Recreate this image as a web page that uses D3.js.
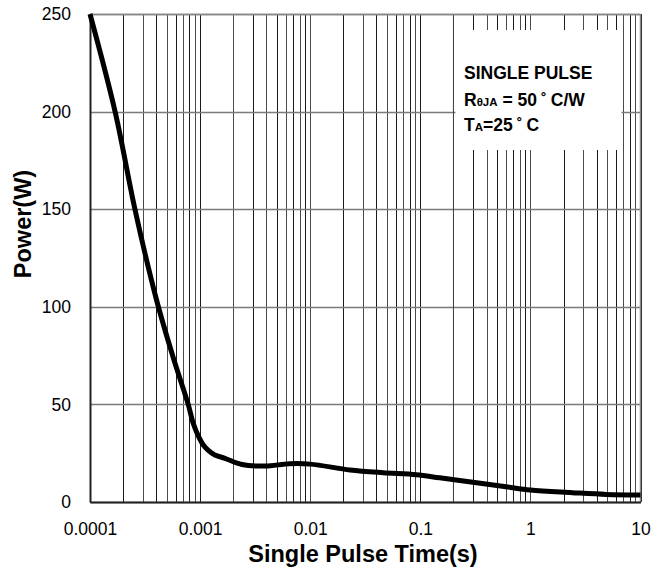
<!DOCTYPE html>
<html><head><meta charset="utf-8">
<script src="https://cdn.jsdelivr.net/npm/d3@7"></script>
<style>body{margin:0;background:#fff}svg{display:block}text{font-family:Arial,"Liberation Sans",sans-serif}</style>
</head><body>
<svg id="c" width="662" height="571"></svg>
<script>
const pulseTime = [1e-4, 1.69e-4, 2.56e-4, 4.0e-4, 5.7e-4, 7.8e-4, 8.66e-4, 9.6e-4, 1.07e-3, 1.18e-3, 1.36e-3, 1.68e-3, 2.4e-3, 3.9e-3, 6.5e-3, 1.0e-2, 2.3e-2, 4.6e-2, 9.2e-2, 0.15, 0.3, 0.6, 1.0, 2.4, 4.9, 10];
const powerW =    [250, 200, 150, 104, 74, 50, 40.3, 34, 29.2, 26.6, 24.1, 22.4, 19.2, 18.4, 19.6, 19.4, 16.4, 15, 14, 12.4, 10.1, 7.8, 6.1, 4.8, 3.9, 3.6];
const xTickValues = [0.0001, 0.001, 0.01, 0.1, 1, 10];
const xTickLabels = ["0.0001", "0.001", "0.01", "0.1", "1", "10"];
const yTickValues = [0, 50, 100, 150, 200, 250];
const legendLines = ["SINGLE PULSE", "RθJA = 50˚C/W", "TA=25˚C"];

const svg = d3.select("#c");
const L = 90, R = 640.5, T = 14, B = 502;
const x = d3.scaleLog().domain([1e-4, 10]).range([L, R]);
const y = d3.scaleLinear().domain([0, 250]).range([B, T]);

// vertical grid (all minor decades)
const minor = [];
for (let e = -4; e < 1; e++) for (let m = 1; m <= 9; m++) minor.push(m * Math.pow(10, e));
minor.push(10);
svg.append("g").selectAll("line").data(minor).join("line")
  .attr("x1", d => Math.round(x(d)) + 0.5).attr("x2", d => Math.round(x(d)) + 0.5)
  .attr("y1", T).attr("y2", B)
  .attr("stroke", (d, i) => i % 2 ? "#1a1a1a" : "#4a4a4a").attr("stroke-width", 1);

// horizontal grid
svg.append("g").selectAll("line").data(yTickValues).join("line")
  .attr("x1", L).attr("x2", R)
  .attr("y1", d => Math.round(y(d)) + 0.5).attr("y2", d => Math.round(y(d)) + 0.5)
  .attr("stroke", "#7a7a7a").attr("stroke-width", 1.3);

// legend box covering grid
svg.append("rect").attr("x", 455.5).attr("y", 30).attr("width", 166).attr("height", 120).attr("fill", "#fff");
svg.append("line").attr("x1", x(0.2)).attr("x2", x(0.2)).attr("y1", T).attr("y2", B).attr("stroke", "#444");

// frame
svg.append("line").attr("x1", L).attr("x2", R).attr("y1", T + 0.5).attr("y2", T + 0.5).attr("stroke", "#888").attr("stroke-width", 1.5);
svg.append("line").attr("x1", R).attr("x2", R).attr("y1", T).attr("y2", B).attr("stroke", "#888").attr("stroke-width", 1.5);

// axes
const xAxis = d3.axisBottom(x).tickValues(xTickValues).tickFormat((d, i) => xTickLabels[i]).tickSize(0).tickPadding(20);
const gx = svg.append("g").attr("transform", `translate(0,${B})`).call(xAxis);
gx.select(".domain").attr("stroke", "#222").attr("stroke-width", 2);
gx.selectAll("text").attr("font-size", 17.5).attr("fill", "#000").attr("dy", 0).attr("y", 33);

const yAxis = d3.axisLeft(y).tickValues(yTickValues).tickSize(0).tickPadding(19);
const gy = svg.append("g").attr("transform", `translate(${L},0)`).call(yAxis);
gy.select(".domain").attr("stroke", "#222").attr("stroke-width", 2);
gy.selectAll("text").attr("font-size", 17.5).attr("fill", "#000");

// curve
const pts = pulseTime.map((t, i) => [t, powerW[i]]);
svg.append("path").datum(pts)
  .attr("d", d3.line().x(d => x(d[0])).y(d => y(d[1])).curve(d3.curveCatmullRom.alpha(0.5)))
  .attr("fill", "none").attr("stroke", "#000").attr("stroke-width", 5).attr("stroke-linejoin", "round");

// axis titles
svg.append("text").attr("x", 363).attr("y", 562).attr("text-anchor", "middle")
  .attr("font-size", 23.5).attr("font-weight", "bold").text("Single Pulse Time(s)");
svg.append("text").attr("transform", "translate(31,224) rotate(-90)").attr("text-anchor", "middle")
  .attr("font-size", 23.5).attr("font-weight", "bold").text("Power(W)");

// legend text
const lg = svg.append("g").attr("font-weight", "bold").attr("font-size", 17.5);
lg.append("text").attr("x", 464).attr("y", 79).text(legendLines[0]);
const l2 = lg.append("text").attr("x", 464).attr("y", 105.5);
l2.append("tspan").text("R");
l2.append("tspan").attr("font-size", 11.5).text("θJA");
l2.append("tspan").text(" = 50");
l2.append("tspan").attr("dx", 4).text("˚");
l2.append("tspan").attr("dx", 4).text("C/W");
const l3 = lg.append("text").attr("x", 464).attr("y", 130.5);
l3.append("tspan").text("T");
l3.append("tspan").attr("font-size", 11.5).text("A");
l3.append("tspan").text("=25");
l3.append("tspan").attr("dx", 4).text("˚");
l3.append("tspan").attr("dx", 4).text("C");
</script>
</body></html>
